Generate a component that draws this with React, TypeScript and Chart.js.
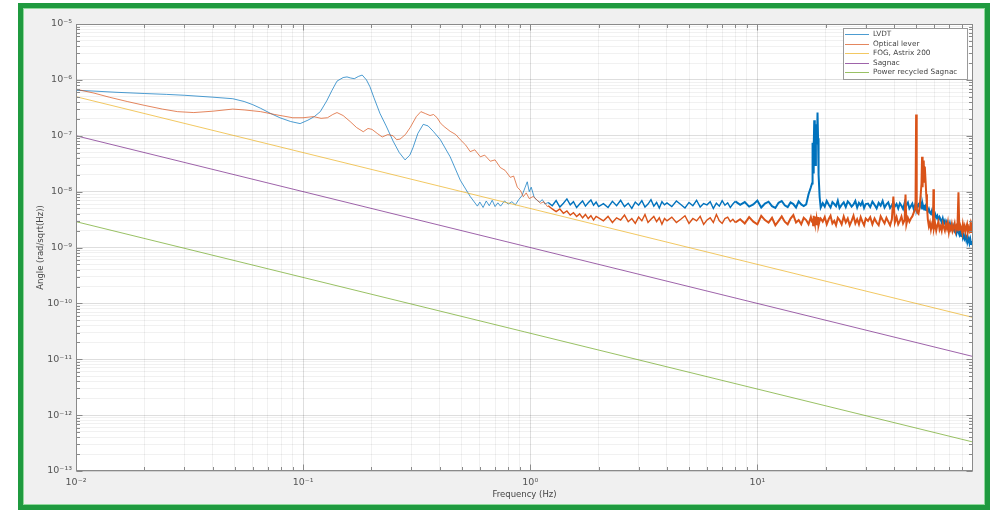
import React, { useEffect, useRef } from 'react';
import { Chart, registerables } from 'chart.js';

Chart.register(...registerables);

// ---------- data ----------
const seriesLabels = ['LVDT', 'Optical lever', 'FOG, Astrix 200', 'Sagnac', 'Power recycled Sagnac'];
const seriesColors = ['#0072BD', '#D95319', '#EDB120', '#7E2F8E', '#77AC30'];
const seriesSoftColors = ['rgba(0,114,189,0.7)', 'rgba(217,83,25,0.7)', 'rgba(237,177,32,0.7)', 'rgba(126,47,142,0.75)', 'rgba(119,172,48,0.75)'];

// LVDT, smooth low-frequency part (Hz, rad/sqrt(Hz))
const lvdtLowFreq = [0.010, 0.012, 0.015, 0.020, 0.025, 0.030, 0.040, 0.049, 0.055, 0.060, 0.065, 0.072, 0.079, 0.088, 0.097, 0.105, 0.112, 0.119, 0.127, 0.134, 0.141, 0.150, 0.156, 0.162, 0.168, 0.175, 0.182, 0.190, 0.197, 0.205, 0.218, 0.232, 0.249, 0.265, 0.281, 0.295, 0.305, 0.320, 0.338, 0.355, 0.374, 0.402, 0.444, 0.492, 0.544, 0.585, 0.60, 0.62, 0.64, 0.66, 0.68, 0.70, 0.72, 0.74, 0.77, 0.80, 0.83, 0.86, 0.89, 0.92, 0.95, 0.97, 0.99, 1.01, 1.04, 1.07, 1.10, 1.13, 1.16];
const lvdtLowVal = [6.5e-7, 6.3e-7, 6.0e-7, 5.7e-7, 5.5e-7, 5.3e-7, 4.9e-7, 4.6e-7, 4.1e-7, 3.6e-7, 3.1e-7, 2.5e-7, 2.1e-7, 1.8e-7, 1.65e-7, 1.9e-7, 2.2e-7, 2.7e-7, 4.2e-7, 6.5e-7, 9.5e-7, 1.1e-6, 1.13e-6, 1.08e-6, 1.05e-6, 1.15e-6, 1.22e-6, 1.0e-6, 7.5e-7, 4.8e-7, 2.5e-7, 1.5e-7, 8e-8, 5e-8, 3.7e-8, 4.5e-8, 6.2e-8, 1.1e-7, 1.6e-7, 1.5e-7, 1.2e-7, 8.5e-8, 4.2e-8, 1.6e-8, 8.2e-9, 5.5e-9, 6.5e-9, 5.2e-9, 6.8e-9, 5.6e-9, 7.0e-9, 5.4e-9, 6.3e-9, 5.5e-9, 6.8e-9, 6.0e-9, 6.6e-9, 5.8e-9, 7.2e-9, 8.5e-9, 1.2e-8, 1.5e-8, 1.0e-8, 1.2e-8, 8e-9, 7e-9, 6.5e-9, 7.2e-9, 6.0e-9];

// Optical lever, smooth low-frequency part
const opticLowFreq = [0.010, 0.012, 0.014, 0.0168, 0.020, 0.024, 0.028, 0.033, 0.040, 0.049, 0.055, 0.065, 0.075, 0.090, 0.100, 0.111, 0.120, 0.128, 0.135, 0.141, 0.150, 0.161, 0.172, 0.184, 0.193, 0.201, 0.212, 0.223, 0.236, 0.249, 0.258, 0.267, 0.282, 0.296, 0.315, 0.330, 0.345, 0.362, 0.375, 0.389, 0.402, 0.414, 0.444, 0.470, 0.492, 0.520, 0.544, 0.570, 0.603, 0.630, 0.667, 0.700, 0.738, 0.775, 0.817, 0.845, 0.877, 0.905, 0.932, 0.960, 0.990, 1.030, 1.074, 1.110, 1.150, 1.189];
const opticLowVal = [6.8e-7, 5.8e-7, 4.9e-7, 4.1e-7, 3.5e-7, 3.0e-7, 2.7e-7, 2.6e-7, 2.75e-7, 3.0e-7, 2.9e-7, 2.7e-7, 2.4e-7, 2.1e-7, 2.1e-7, 2.2e-7, 2.05e-7, 2.1e-7, 2.4e-7, 2.6e-7, 2.3e-7, 1.8e-7, 1.4e-7, 1.18e-7, 1.35e-7, 1.3e-7, 1.1e-7, 9.5e-8, 1.05e-7, 1.0e-7, 8.5e-8, 8.7e-8, 1.05e-7, 1.4e-7, 2.2e-7, 2.7e-7, 2.5e-7, 2.3e-7, 2.4e-7, 2.1e-7, 1.7e-7, 1.5e-7, 1.2e-7, 1.05e-7, 8.5e-8, 6.8e-8, 5.2e-8, 5.6e-8, 4.2e-8, 4.5e-8, 3.5e-8, 3.7e-8, 2.7e-8, 2.4e-8, 1.8e-8, 1.9e-8, 1.2e-8, 1.05e-8, 8.1e-9, 9.5e-9, 7.5e-9, 8.2e-9, 7.0e-9, 6.2e-9, 6.6e-9, 5.4e-9];

// Noisy high-frequency band (shared frequencies, values in nrad/sqrt(Hz))
const NANO = 1e-9;
const bandFreq = [
  1.20, 1.25, 1.30, 1.35, 1.40, 1.45, 1.50, 1.55, 1.60, 1.65, 1.70, 1.75, 1.80, 1.85, 1.90, 1.95, 2.00,
  2.1, 2.2, 2.3, 2.4, 2.5, 2.6, 2.7, 2.8, 2.9, 3.0, 3.1, 3.2, 3.3, 3.4, 3.5, 3.6, 3.7, 3.8, 3.9, 4.0,
  4.2, 4.4, 4.6, 4.8, 5.0, 5.2, 5.4, 5.6, 5.8, 6.0, 6.2, 6.4, 6.6, 6.8, 7.0, 7.2, 7.4, 7.6, 7.8, 8.0,
  8.4, 8.8, 9.2, 9.6, 10.0, 10.4, 10.8, 11.2, 11.6, 12.0, 12.4, 12.8, 13.2, 13.6, 14.0, 14.4, 14.8, 15.2, 15.6, 16.0,
  16.4, 16.8, 17.2, 17.4, 17.5, 17.6, 17.7, 17.8, 17.9, 18.0, 18.1, 18.2, 18.3, 18.4, 18.5, 18.6, 18.8, 19.0,
  19.4, 19.8, 20.2, 20.6, 21.0, 21.4, 21.8, 22.2, 22.6, 23.0, 23.5, 24.0, 24.5, 25.0, 25.5, 26.0, 26.5, 27.0, 27.5, 28.0, 28.5, 29.0, 29.5, 30.0,
  30.7, 31.4, 32.1, 32.8, 33.5, 34.2, 34.9, 35.6, 36.3, 37.0, 37.7, 38.4, 39.1, 39.7, 40.3, 41.0, 41.7, 42.4, 43.1, 43.8, 44.5, 44.9, 45.3, 46.0, 46.7, 47.4, 48.1, 48.8, 49.4, 49.7, 50.0, 50.3, 50.6,
  51.2, 51.8, 52.4, 52.8, 53.1, 53.4, 53.7, 54.0, 54.3, 54.6, 55.0, 55.4, 55.8, 56.3, 56.9, 57.5, 58.1, 58.7, 59.3, 59.6, 59.9, 60.6, 61.3, 62.0, 62.7, 63.4, 64.1, 64.8, 65.5, 66.2, 66.9, 67.6, 68.3, 69.0, 69.7, 70.4, 71.1, 71.8, 72.5, 73.2, 73.9, 74.6, 75.3, 76.0, 76.8, 77.5, 78.2, 78.9, 79.6, 80.3, 81.0, 81.7, 82.4, 83.1, 83.8, 84.5, 85.2, 85.9, 86.6, 87.3, 88.0, 88.7,
];
const lvdtBandNano = [
  6.4, 5.6, 6.9, 5.3, 6.2, 7.4, 5.8, 6.6, 5.2, 6.0, 6.8, 5.5, 6.3, 7.1, 5.7, 6.5, 5.4,
  6.1, 5.2, 6.7, 5.6, 7.0, 5.4, 6.2, 5.0, 6.5, 5.7, 6.9, 5.3, 6.0, 7.2, 5.5, 6.4, 5.1, 6.6, 5.8, 6.3,
  5.4, 6.8, 5.9, 5.1, 6.4, 5.6, 7.0, 5.3, 6.1, 5.8, 6.6, 5.0, 6.2, 5.5, 6.9, 5.7, 6.3, 5.2, 6.0, 6.7,
  5.8, 6.5, 5.4, 5.9, 6.9, 5.2, 6.1, 6.6, 5.5, 5.1, 6.3, 6.8, 5.7, 5.3, 6.4, 6.0, 5.2, 6.7, 5.9, 5.5,
  5.9, 9.0, 12, 14, 75, 22, 60, 190, 45, 30, 110, 160, 70, 260, 90, 20, 8.0, 5.2,
  6.2, 5.4, 6.8, 5.9, 5.2, 6.5, 6.0, 5.5, 6.9, 5.1, 5.8, 6.4, 5.3, 6.7, 6.1, 5.4, 5.9, 6.8, 5.2, 6.3, 5.7, 6.6, 5.1, 6.0,
  6.1, 5.3, 6.6, 5.8, 5.0, 6.3, 5.6, 6.8, 5.2, 5.9, 6.4, 5.1, 5.7, 6.5, 5.4, 6.0, 5.0, 6.2, 5.6, 4.9, 6.3, 5.3, 5.8, 6.4, 5.0, 5.5, 6.1, 4.9, 5.7, 5.2, 6.0, 5.0, 5.5,
  5.9, 5.2, 6.3, 5.6, 5.0, 6.0, 5.4, 5.8, 4.8, 5.3, 5.6, 4.7, 5.1, 4.4, 4.9, 4.2, 4.0, 4.6, 3.8, 4.1, 3.6, 4.0, 3.4, 3.7, 3.1, 3.5, 3.2, 2.8, 3.3, 2.7, 3.0, 2.5, 2.9, 2.6, 2.3, 2.7, 2.2, 2.5, 2.1, 2.4, 2.0, 2.2, 1.8, 2.1, 1.9, 1.7, 2.0, 1.6, 1.85, 1.5, 1.7, 1.45, 1.6, 1.35, 1.55, 1.3, 1.45, 1.2, 1.4, 1.15, 1.3, 1.1,
];
const opticBandNano = [
  5.6, 4.9, 4.4, 4.9, 4.1, 4.5, 3.8, 4.2, 3.6, 4.0, 3.4, 3.9, 3.3, 3.7, 3.1, 3.6, 3.4,
  3.0, 3.6, 2.8, 3.4, 3.1, 3.8, 2.9, 3.3, 2.7, 3.5, 3.0, 3.9, 2.8, 3.2, 3.6, 2.9, 3.4, 2.6, 3.3, 3.0,
  3.5, 2.8, 3.2, 3.7, 2.7, 3.3, 3.0, 3.6, 2.6, 3.1, 3.4, 2.8, 3.9, 3.0, 2.7, 3.3, 3.5, 2.9, 3.2, 2.8,
  3.2, 2.7, 3.5, 2.9, 2.6, 3.7, 3.1, 2.8, 3.4, 2.5, 3.0, 3.6, 2.9, 2.6, 3.3, 3.8, 2.8, 3.1, 2.6, 3.4,
  3.1, 2.6, 3.5, 2.9, 3.3, 2.5, 3.7, 3.0, 2.7, 3.4, 3.6, 2.6, 3.2, 2.9, 3.5, 2.5, 3.0, 3.3,
  2.9, 3.5, 2.6, 3.2, 3.7, 2.7, 3.0, 2.5, 3.4, 3.1, 2.6, 3.6, 2.8, 3.3, 2.5, 3.0, 3.7, 2.7, 3.2, 2.6, 3.5, 2.9, 2.5, 3.3,
  3.0, 3.5, 2.6, 3.3, 2.8, 2.5, 3.6, 3.1, 2.7, 3.4, 2.9, 2.5, 3.2, 8.2, 2.8, 3.5, 2.6, 3.0, 3.6, 2.7, 3.1, 8.9, 2.6, 3.4, 2.9, 3.3, 3.6, 4.2, 4.8, 6.0, 240, 5.5, 4.2,
  4.0, 5.2, 9.0, 14, 42, 12, 30, 36, 15, 28, 16, 9.0, 5.5, 3.2, 2.4, 2.8, 2.1, 2.6, 2.3, 11, 2.2, 2.7, 2.0, 2.5, 2.9, 2.1, 2.4, 2.0, 2.7, 2.3, 2.0, 2.6, 2.2, 2.8, 1.9, 2.4, 2.1, 2.6, 2.0, 2.3, 2.7, 2.0, 2.4, 2.2, 9.7, 2.0, 2.5, 2.2, 1.9, 2.6, 2.1, 2.4, 1.9, 2.3, 2.6, 1.9, 2.2, 2.0, 2.5, 1.9, 2.3, 2.0,
];

// Straight model lines
const fogFreq = [0.01, 89];
const fogVal = [5e-7, 5.6e-11];
const sagnacFreq = [0.01, 89];
const sagnacVal = [1e-7, 1.12e-11];
const prSagnacFreq = [0.01, 89];
const prSagnacVal = [2.9e-9, 3.3e-13];

// Axes
const xMin = 0.01;
const xMax = 89;
const yMin = 1e-13;
const yMax = 1e-5;
const xDecades = [0.01, 0.1, 1, 10];
const xDecadeLabels = ['10⁻²', '10⁻¹', '10⁰', '10¹'];
const yDecades = [1e-13, 1e-12, 1e-11, 1e-10, 1e-9, 1e-8, 1e-7, 1e-6, 1e-5];
const yDecadeLabels = ['10⁻¹³', '10⁻¹²', '10⁻¹¹', '10⁻¹⁰', '10⁻⁹', '10⁻⁸', '10⁻⁷', '10⁻⁶', '10⁻⁵'];
const minorSteps = [2, 3, 4, 5, 6, 7, 8, 9];
const bandStart = 1.19;

// ---------- helpers ----------
function pts(freq: number[], val: number[], scale = 1) {
  return freq.map((f, i) => ({ x: f, y: val[i] * scale }));
}

function buildTicks(decades: number[], max: number) {
  const t: { value: number; major: boolean }[] = [];
  decades.forEach((d) => {
    t.push({ value: d, major: true });
    minorSteps.forEach((m) => {
      const v = m * d;
      if (v <= max * 1.0001 && !decades.some((dd) => Math.abs(Math.log10(dd) - Math.log10(v)) < 1e-6)) {
        t.push({ value: v, major: false });
      }
    });
  });
  return t.filter((tk) => tk.value <= max * 1.0001);
}

function labelFor(v: number, decades: number[], labels: string[]) {
  const i = decades.findIndex((d) => Math.abs(Math.log10(d) - Math.log10(v)) < 1e-6);
  return i >= 0 ? labels[i] : '';
}

const FONT = '"DejaVu Sans", "Liberation Sans", sans-serif';

const boxPlugin = {
  id: 'matlabBox',
  beforeDraw(chart: any) {
    const { ctx, chartArea: a } = chart;
    ctx.save();
    ctx.fillStyle = '#ffffff';
    ctx.fillRect(a.left, a.top, a.right - a.left, a.bottom - a.top);
    ctx.restore();
  },
  afterDatasetsDraw(chart: any) {
    const { ctx, chartArea: a, scales } = chart;
    ctx.save();
    ctx.strokeStyle = '#8a8a8a';
    ctx.lineWidth = 1;
    const L = Math.round(a.left) + 0.5;
    const R = Math.round(a.right) - 0.5;
    const T = Math.round(a.top) + 0.5;
    const B = Math.round(a.bottom) - 0.5;
    ctx.strokeRect(L, T, R - L, B - T);
    ctx.beginPath();
    scales.x.ticks.forEach((tk: any) => {
      const px = Math.round(scales.x.getPixelForValue(tk.value)) + 0.5;
      const len = tk.major ? 6 : 3.5;
      ctx.moveTo(px, B);
      ctx.lineTo(px, B - len);
      ctx.moveTo(px, T);
      ctx.lineTo(px, T + len);
    });
    scales.y.ticks.forEach((tk: any) => {
      const py = Math.round(scales.y.getPixelForValue(tk.value)) + 0.5;
      const len = tk.major ? 6 : 3.5;
      ctx.moveTo(L, py);
      ctx.lineTo(L + len, py);
      ctx.moveTo(R, py);
      ctx.lineTo(R - len, py);
    });
    ctx.stroke();

    // legend
    const w = 124;
    const h = 51;
    const x0 = Math.round(a.right) - 6 - w;
    const y0 = Math.round(a.top) + 4;
    ctx.fillStyle = '#ffffff';
    ctx.fillRect(x0, y0, w, h);
    ctx.strokeStyle = '#9a9a9a';
    ctx.strokeRect(x0 + 0.5, y0 + 0.5, w, h);
    ctx.font = `7.3px ${FONT}`;
    ctx.textBaseline = 'middle';
    ctx.textAlign = 'left';
    seriesLabels.forEach((label, i) => {
      const y = y0 + 6 + i * 9.5;
      ctx.strokeStyle = seriesSoftColors[i];
      ctx.beginPath();
      ctx.moveTo(x0 + 2, Math.round(y) + 0.5);
      ctx.lineTo(x0 + 26, Math.round(y) + 0.5);
      ctx.stroke();
      ctx.fillStyle = '#444';
      ctx.fillText(label, x0 + 30, y + 0.5);
    });
    ctx.restore();
  },
};

function bandSegment(i: number) {
  return {
    borderColor: (c: any) => (c.p0.parsed.x >= bandStart ? seriesColors[i] : seriesSoftColors[i]),
    borderWidth: (c: any) => (c.p0.parsed.x >= 8 ? 2.0 : c.p0.parsed.x >= bandStart ? 1.4 : 1),
  };
}

export default function App() {
  const ref = useRef<HTMLCanvasElement>(null);

  useEffect(() => {
    const canvas = ref.current;
    if (!canvas) return;
    const lvdtData = [...pts(lvdtLowFreq, lvdtLowVal), ...pts(bandFreq, lvdtBandNano, NANO)];
    const opticData = [...pts(opticLowFreq, opticLowVal), ...pts(bandFreq, opticBandNano, NANO)];
    const gridColor = (c: any) => (c.tick && c.tick.major ? 'rgba(0,0,0,0.13)' : 'rgba(0,0,0,0.055)');

    const chart = new Chart(canvas, {
      type: 'line',
      data: {
        datasets: [
          { label: seriesLabels[0], data: lvdtData, borderColor: seriesSoftColors[0], borderWidth: 1, order: 5, segment: bandSegment(0) },
          { label: seriesLabels[1], data: opticData, borderColor: seriesSoftColors[1], borderWidth: 1, order: 4, segment: bandSegment(1) },
          { label: seriesLabels[2], data: pts(fogFreq, fogVal), borderColor: seriesSoftColors[2], borderWidth: 1, order: 3 },
          { label: seriesLabels[3], data: pts(sagnacFreq, sagnacVal), borderColor: seriesSoftColors[3], borderWidth: 1, order: 2 },
          { label: seriesLabels[4], data: pts(prSagnacFreq, prSagnacVal), borderColor: seriesSoftColors[4], borderWidth: 1, order: 1 },
        ],
      } as any,
      options: {
        responsive: false,
        animation: false,
        devicePixelRatio: 1,
        layout: { padding: { left: 0, right: 17, top: 24, bottom: 0 } },
        plugins: { legend: { display: false }, tooltip: { enabled: false } },
        elements: { point: { radius: 0 }, line: { tension: 0 } },
        scales: {
          x: {
            type: 'logarithmic',
            min: xMin,
            max: xMax,
            afterBuildTicks: (s: any) => {
              s.ticks = buildTicks(xDecades, xMax);
            },
            afterFit: (s: any) => {
              s.height = 39;
            },
            grid: { color: gridColor, drawTicks: false },
            border: { display: false },
            ticks: {
              autoSkip: false,
              maxRotation: 0,
              padding: 6,
              color: '#555',
              font: { family: FONT, size: 9.5 },
              callback: (v: any) => labelFor(Number(v), xDecades, xDecadeLabels),
            },
            title: {
              display: true,
              text: 'Frequency (Hz)',
              color: '#444',
              font: { family: FONT, size: 8.5 },
              padding: { top: 0, bottom: 10 },
            },
          },
          y: {
            type: 'logarithmic',
            min: yMin,
            max: yMax,
            afterBuildTicks: (s: any) => {
              s.ticks = buildTicks(yDecades, yMax);
            },
            afterFit: (s: any) => {
              s.width = 76;
            },
            grid: { color: gridColor, drawTicks: false },
            border: { display: false },
            ticks: {
              autoSkip: false,
              padding: 4,
              color: '#555',
              font: { family: FONT, size: 9.5 },
              callback: (v: any) => labelFor(Number(v), yDecades, yDecadeLabels),
            },
            title: {
              display: true,
              text: 'Angle (rad/sqrt(Hz))',
              color: '#444',
              font: { family: FONT, size: 8.5 },
              padding: { top: 36, bottom: 0 },
            },
          },
        },
      } as any,
      plugins: [boxPlugin],
    });
    return () => chart.destroy();
  }, []);

  return (
    <div style={{ position: 'fixed', left: 0, top: 0, width: 990, height: 510, background: '#ffffff', overflow: 'hidden' }}>
      <div
        style={{
          position: 'absolute',
          left: 18,
          top: 3,
          width: 972,
          height: 507,
          boxSizing: 'border-box',
          border: '5px solid #1f9a3f',
          boxShadow: 'inset 0 0 0 1px #8fd99b',
          background: '#f0f0f0',
        }}
      />
      <canvas ref={ref} width={990} height={510} style={{ position: 'absolute', left: 0, top: 0, width: 990, height: 510 }} />
    </div>
  );
}
